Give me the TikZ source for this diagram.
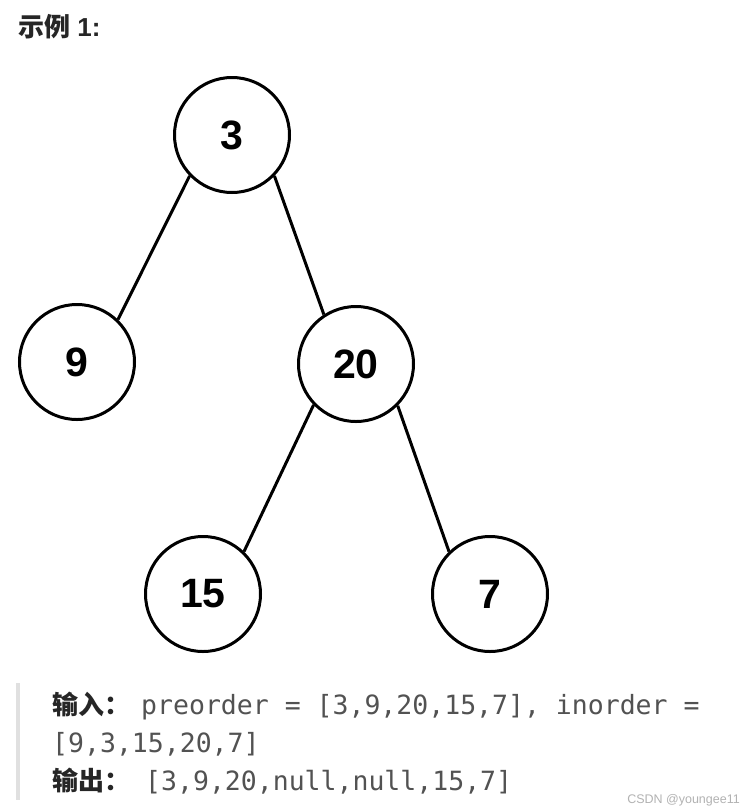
\documentclass[tikz,border=0pt]{standalone}
\usepackage{fontspec}
\setmainfont{Liberation Sans}
\setmonofont{DejaVu Sans Mono}
\newfontfamily\cjk{Noto Sans CJK SC}
\begin{document}
\begin{tikzpicture}[x=1pt,y=-1pt,
  tnode/.style={circle,draw=black,line width=3pt,minimum size=115pt,inner sep=0pt,
    font=\fontsize{41}{41}\selectfont\bfseries},
  edge/.style={line width=3pt},
  lbl/.style={anchor=base west,inner sep=0pt},
  mono/.style={lbl,text=black!68,font=\fontsize{26.5}{26.5}\ttfamily}]
\useasboundingbox (0,0) rectangle (750,812);
\fill[white] (0,0) rectangle (750,812);
\node[lbl,font=\fontsize{26}{26}\selectfont\bfseries,text=black!85] (title) at (18,36) {{\cjk 示例} 1:};
\node[tnode] (n3) at (232,135) {3};
\node[tnode] (n9) at (77,362) {9};
\node[tnode] (n20) at (356,364) {20};
\node[tnode] (n15) at (203,594) {15};
\node[tnode] (n7) at (490,594) {7};
\draw[edge] (n3.224) -- (n9.46);
\draw[edge] (n3.316) -- (n20.123);
\draw[edge] (n20.224) -- (n15.46);
\draw[edge] (n20.315) -- (n7.134);
\fill[black!12] (16,683) rectangle (20,800) coordinate (barend);
\node[lbl,font=\fontsize{26}{26}\cjk\bfseries,text=black!85] (in) at (52,714) {输入：};
\node[mono] (pre) at (141,714) {preorder = [3,9,20,15,7], inorder =};
\node[mono] (ino) at (52,752) {[9,3,15,20,7]};
\node[lbl,font=\fontsize{26}{26}\cjk\bfseries,text=black!85] (out) at (52,790) {输出：};
\node[mono] (res) at (145,790) {[3,9,20,null,null,15,7]};
\node[anchor=base east,inner sep=0pt,text=black!30,font=\fontsize{12.5}{12.5}\selectfont] (wm) at (740,803) {CSDN @youngee11};
\end{tikzpicture}
\end{document}
